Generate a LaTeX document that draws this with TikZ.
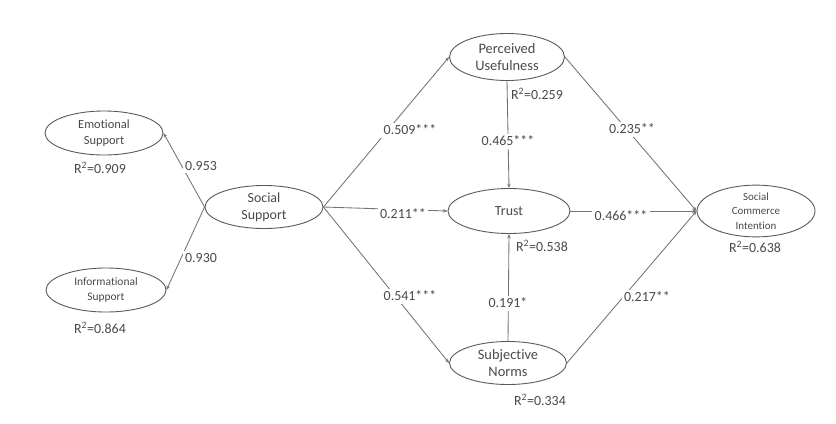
\documentclass[tikz,border=0pt]{standalone}
\usepackage{fontspec}
\setmainfont[Ligatures=NoCommon]{Carlito}
\usetikzlibrary{shapes.geometric,arrows.meta}
\definecolor{txt}{HTML}{4A4A4A}
\definecolor{ln}{HTML}{737373}
\definecolor{ol}{HTML}{5A5A5A}
\tikzset{
  construct/.style={ellipse, draw=ol, line width=0.9pt, inner sep=0pt, align=center, text=txt},
  path/.style={draw=ln, line width=0.85pt, -{Stealth[length=4.5pt,width=3.5pt]}},
  coef/.style={fill=white, inner sep=2.5pt, text=txt, font=\fontsize{14}{16}\selectfont},
  rsq/.style={inner sep=0pt, text=txt, font=\fontsize{14}{16}\selectfont}
}
\begin{document}
\begin{tikzpicture}[x=1bp,y=-1bp]
\useasboundingbox (0,0) rectangle (836,423);
\fill[white] (0,0) rectangle (836,423);
% constructs
\node[construct, minimum width=118bp, minimum height=44bp, font=\fontsize{12.5}{16}\selectfont] (es) at (104,133) {Emotional\\Support};
\node[construct, minimum width=120bp, minimum height=44bp, font=\fontsize{11.5}{15}\selectfont] (is) at (106,290) {Informational\\Support};
\node[construct, minimum width=118bp, minimum height=43bp, font=\fontsize{14}{17}\selectfont] (ss) at (264,207) {Social\\Support};
\node[construct, minimum width=115bp, minimum height=47bp, font=\fontsize{14.5}{18}\selectfont] (pu) at (507,57) {Perceived\\Usefulness};
\node[construct, minimum width=122bp, minimum height=45bp, font=\fontsize{14}{17}\selectfont] (tr) at (509,211) {Trust};
\node[construct, minimum width=117bp, minimum height=43bp, font=\fontsize{14.5}{18}\selectfont] (sn) at (508,363) {Subjective\\Norms};
\node[construct, minimum width=118bp, minimum height=44bp, font=\fontsize{11}{14.5}\selectfont] (sci) at (756,211) {Social\\Commerce\\Intention};
% paths
\draw[path] (ss.west) -- (es.east);
\draw[path] (ss.west) -- (is.east);
\draw[path] (ss.east) -- (pu.west);
\draw[path] (ss.east) -- (tr.west);
\draw[path] (ss.east) -- (sn.west);
\draw[path] (pu.south) -- (tr.north);
\draw[path] (sn.north) -- (tr.south);
\draw[path] (pu.east) -- (sci.west);
\draw[path] (tr.east) -- (sci.west);
\draw[path] (sn.east) -- (sci.west);
% coefficients
\node[coef] (c1) at (201,166) {0.953};
\node[coef] (c2) at (201,258) {0.930};
\node[coef] (c3) at (410,130) {0.509***};
\node[coef] (c4) at (403,214) {0.211**};
\node[coef] (c5) at (410,296) {0.541***};
\node[coef] (c6) at (508,141) {0.465***};
\node[coef] (c7) at (508,303) {0.191*};
\node[coef] (c8) at (632,129) {0.235**};
\node[coef] (c9) at (621,216) {0.466***};
\node[coef] (c10) at (647,297) {0.217**};
% R squared
\node[rsq] (r1) at (100,168) {R\textsuperscript{2}=0.909};
\node[rsq] (r2) at (100,328) {R\textsuperscript{2}=0.864};
\node[rsq, fill=white, inner sep=1pt] (r3) at (537,94) {R\textsuperscript{2}=0.259};
\node[rsq, fill=white, inner sep=1pt] (r4) at (542,246) {R\textsuperscript{2}=0.538};
\node[rsq] (r5) at (540,400) {R\textsuperscript{2}=0.334};
\node[rsq] (r6) at (755,247) {R\textsuperscript{2}=0.638};
\end{tikzpicture}
\end{document}
